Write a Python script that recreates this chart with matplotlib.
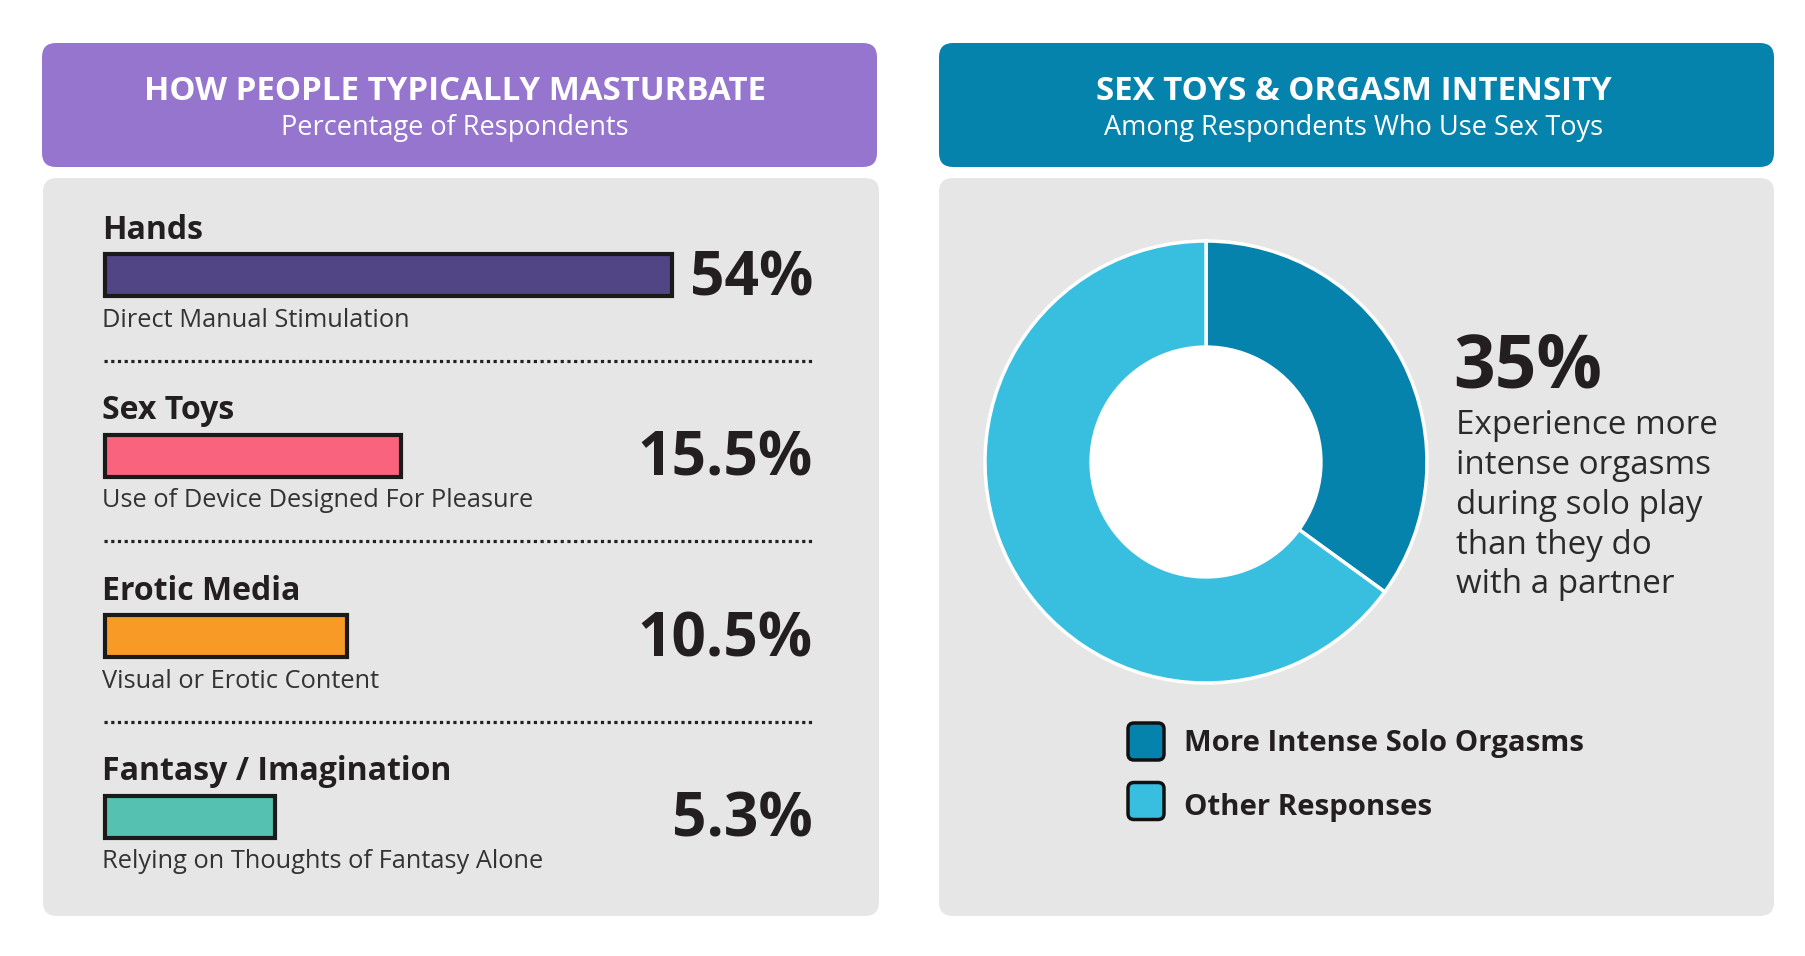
import numpy as np
import matplotlib.pyplot as plt
from matplotlib.patches import FancyBboxPatch, Circle
from matplotlib import transforms

# left panel data
methods = ['Hands', 'Sex Toys', 'Erotic Media', 'Fantasy / Imagination']
method_notes = ['Direct Manual Stimulation', 'Use of Device Designed For Pleasure',
                'Visual or Erotic Content', 'Relying on Thoughts of Fantasy Alone']
method_pct = [54, 15.5, 10.5, 5.3]
method_labels = ['54%', '15.5%', '10.5%', '5.3%']
bar_colors = ['#514586', '#F9637E', '#F89B26', '#55C2B1']

# right panel data
toy_groups = ['More Intense Solo Orgasms', 'Other Responses']
toy_pct = [35, 65]
toy_colors = ['#0683AC', '#38BFE0']
toy_big = '35%'
toy_text = ['Experience more', 'intense orgasms', 'during solo play',
            'than they do', 'with a partner']

plt.rcParams['font.family'] = ['Open Sans', 'DejaVu Sans']
ink = '#231F20'
W, H = 1806, 956

fig = plt.figure(figsize=(W / 100, H / 100), dpi=100)
fig.patch.set_facecolor('white')

lay = fig.add_axes([0, 0, 1, 1])
lay.set_xlim(0, W)
lay.set_ylim(H, 0)
lay.axis('off')


def panel(x0, y0, x1, y1, color, r=14):
    lay.add_patch(FancyBboxPatch((x0, y0), x1 - x0, y1 - y0,
                                 boxstyle='round,pad=0,rounding_size=%d' % r,
                                 fc=color, ec='none'))


def px_axes(x0, y0, x1, y1):
    return fig.add_axes([x0 / W, 1 - y1 / H, (x1 - x0) / W, (y1 - y0) / H])


panel(42, 43, 877, 167, '#9575CD')
panel(43, 178, 879, 916, '#E6E6E6')
panel(939, 43, 1774, 167, '#0683AC')
panel(939, 178, 1774, 916, '#E6E6E6')

lay.text(455, 91.5, 'HOW PEOPLE TYPICALLY MASTURBATE', ha='center', va='center',
         color='white', fontsize=23.8, fontweight='bold')
lay.text(455, 127.5, 'Percentage of Respondents', ha='center', va='center',
         color='white', fontsize=19.5)
lay.text(1354, 91.5, 'SEX TOYS & ORGASM INTENSITY', ha='center', va='center',
         color='white', fontsize=23.8, fontweight='bold')
lay.text(1354, 127.5, 'Among Respondents Who Use Sex Toys', ha='center', va='center',
         color='white', fontsize=19.5)

# bars, on a power scale like the original graphic
p = 0.52
axb = px_axes(105, 185, 672, 907)
axb.set_xscale('function', functions=(lambda v: np.power(np.clip(v, 0, None), p),
                                      lambda v: np.power(np.clip(v, 0, None), 1 / p)))
axb.set_xlim(0, max(method_pct))
axb.set_ylim(len(methods) - 0.5, -0.5)
axb.axis('off')
rows = np.arange(len(methods))
bars = axb.barh(rows, method_pct, height=0.232, color=bar_colors,
                edgecolor='#1A1A1A', linewidth=3)
for b in bars:
    b.set_clip_on(False)

tr = transforms.blended_transform_factory(lay.transData, axb.transData)
for i in rows:
    lay.text(102, i - 0.25, methods[i], transform=tr, ha='left', va='center',
             color=ink, fontsize=23, fontweight='bold')
    lay.text(102, i + 0.25, method_notes[i], transform=tr, ha='left', va='center',
             color='#333333', fontsize=18.3)
    lay.text(813, i + 0.025, method_labels[i], transform=tr, ha='right', va='center',
             color=ink, fontsize=43.5, fontweight='bold')
    if i < len(methods) - 1:
        lay.plot([104, 815], [i + 0.475, i + 0.475], transform=tr, color='#222222',
                 linewidth=2.3, linestyle=(0, (1, 1.1)))

# donut
cx, cy, R = 1206, 462, 221
m = 1.03
axp = px_axes(cx - R * m, cy - R * m, cx + R * m, cy + R * m)
axp.pie(toy_pct, colors=toy_colors, startangle=90, counterclock=False, radius=1,
        wedgeprops=dict(width=0.48, edgecolor='white', linewidth=2.5))
axp.add_patch(Circle((0, 0), 0.52, fc='white', ec='none'))
axp.set_xlim(-m, m)
axp.set_ylim(-m, m)
axp.axis('off')

lay.text(1453, 368, toy_big, ha='left', va='center', color=ink,
         fontsize=52.5, fontweight='bold')
for k, line in enumerate(toy_text):
    lay.text(1456, 426 + 39.7 * k, line, ha='left', va='center', color='#2A2A2A',
             fontsize=23.9)

# legend
for k, (name, col) in enumerate(zip(toy_groups, toy_colors)):
    top = 723 + 59.5 * k
    lay.add_patch(FancyBboxPatch((1128, top), 36, 37,
                                 boxstyle='round,pad=0,rounding_size=6',
                                 fc=col, ec='#111111', linewidth=2.5))
    lay.text(1184, 744 + 63 * k, name, ha='left', va='center', color=ink,
             fontsize=21.2, fontweight='bold')

fig.savefig('out.png', dpi=100)
plt.close(fig)
